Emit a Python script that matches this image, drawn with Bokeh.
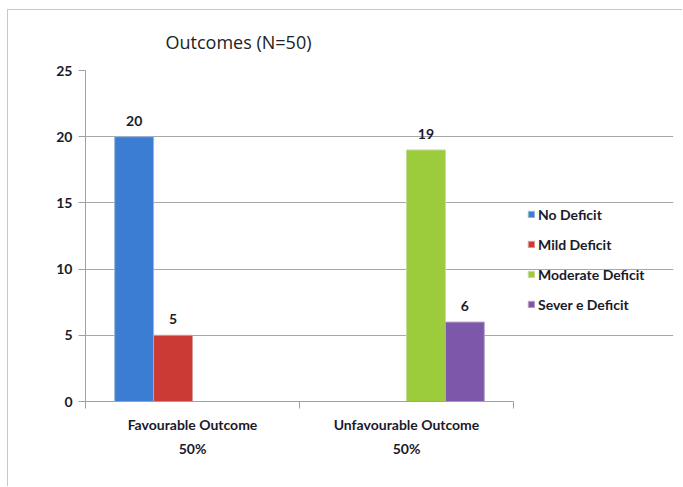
from bokeh.plotting import figure
from bokeh.models import (ColumnDataSource, FixedTicker, Legend, LegendItem, Range1d)
from bokeh.core.properties import value
from bokeh.embed import file_html
from bokeh.resources import INLINE
import numpy as np

categories = ["Favourable Outcome", "Unfavourable Outcome"]
percent_labels = ["50%", "50%"]
series_names = ["No Deficit", "Mild Deficit", "Moderate Deficit", "Severe Deficit"]
legend_labels = ["No Deficit", "Mild Deficit", "Moderate Deficit", "Sever e Deficit"]
no_deficit = [20, 0]
mild_deficit = [5, 0]
moderate_deficit = [0, 19]
severe_deficit = [0, 6]
y_ticks = [0, 5, 10, 15, 20, 25]
title_text = "Outcomes  (N=50)"

series_values = [no_deficit, mild_deficit, moderate_deficit, severe_deficit]
colors = ["#3C7DD4", "#CC3A35", "#9CCB3C", "#7D58AA"]
line_colors = ["#9DB6D6", "#D79A98", "#C4DB98", "#B5A3C9"]

FONT = "Lato"
TXT = "#1a1a2a"

ncat = len(categories)
plot_px = 428          # width of the bar area
frame_px = 588         # frame incl. legend area on the right
x_end = ncat * frame_px / plot_px

p = figure(width=675, height=477, output_backend="svg", toolbar_location=None,
           x_range=Range1d(0, x_end), y_range=Range1d(0, 25),
           min_border_left=77, min_border_right=10, min_border_top=60, min_border_bottom=86,
           outline_line_color=None, background_fill_color="white", border_fill_color="white",
           styles={"margin-left": "7px", "margin-top": "9px",
                   "border-left": "1px solid #c8c8c8", "border-top": "1px solid #c8c8c8"})

p.title.text = title_text
p.title.text_font = "Open Sans"
p.title.text_font_style = "normal"
p.title.text_font_size = "18px"
p.title.text_color = "#222222"
p.title.align = "left"
p.title.offset = 80
p.title.standoff = 33

n = len(series_names)
bar_w = 1.0 / (n + 1.5)
renderers = []
for i, (vals, c, lc) in enumerate(zip(series_values, colors, line_colors)):
    off = (i - (n - 1) / 2) * bar_w
    xs = [k + 0.5 + off for k, v in enumerate(vals) if v != 0]
    ys = [v for v in vals if v != 0]
    src = ColumnDataSource(dict(x=xs, top=ys, label=[str(v) for v in ys]))
    r = p.vbar(x="x", top="top", width=bar_w, bottom=0, source=src,
               fill_color=c, line_color=lc, line_width=1)
    renderers.append(r)
    p.text(x="x", y="top", text="label", source=src, text_align="center",
           text_baseline="bottom", y_offset=-11, text_font=value(FONT),
           text_font_style="bold", text_font_size="14px", text_color=TXT)

# axes
p.yaxis.ticker = FixedTicker(ticks=y_ticks)
p.yaxis.axis_line_color = "#a0a0a0"
p.yaxis.major_tick_line_color = "#a0a0a0"
p.yaxis.major_tick_in = 0
p.yaxis.major_tick_out = 7
p.yaxis.minor_tick_line_color = None
p.yaxis.major_label_text_font = FONT
p.yaxis.major_label_text_font_style = "bold"
p.yaxis.major_label_text_font_size = "14px"
p.yaxis.major_label_text_color = TXT
p.yaxis.major_label_standoff = 6

p.xaxis.ticker = FixedTicker(ticks=[k + 0.5 for k in range(ncat)],
                             minor_ticks=list(range(ncat + 1)))
p.xaxis.bounds = (0, ncat)
p.xaxis.major_label_overrides = {k + 0.5: f"{c}\n{pc}" for k, (c, pc) in enumerate(zip(categories, percent_labels))}
p.xaxis.major_tick_line_color = None
p.xaxis.minor_tick_line_color = "#a0a0a0"
p.xaxis.minor_tick_in = 0
p.xaxis.minor_tick_out = 7
p.xaxis.axis_line_color = "#a0a0a0"
p.xaxis.major_label_text_font = FONT
p.xaxis.major_label_text_font_style = "bold"
p.xaxis.major_label_text_font_size = "14px"
p.xaxis.major_label_text_color = TXT
p.xaxis.major_label_text_line_height = 1.45
p.xaxis.major_label_standoff = 7

p.xgrid.grid_line_color = None
p.ygrid.ticker = FixedTicker(ticks=y_ticks)
p.ygrid.bounds = (0, ncat)
p.ygrid.grid_line_color = "#a8a8a8"
p.ygrid.grid_line_width = 1

legend = Legend(items=[LegendItem(label=l, renderers=[r]) for l, r in zip(legend_labels, renderers)],
                location=(442, 87), glyph_width=8, glyph_height=8, label_standoff=3,
                spacing=10, label_height=20, padding=0, margin=0,
                border_line_color=None, background_fill_alpha=0,
                label_text_font=FONT, label_text_font_style="bold",
                label_text_font_size="14px", label_text_color=TXT)
p.add_layout(legend, "center")

open("out.html", "w").write(file_html(p, INLINE))
